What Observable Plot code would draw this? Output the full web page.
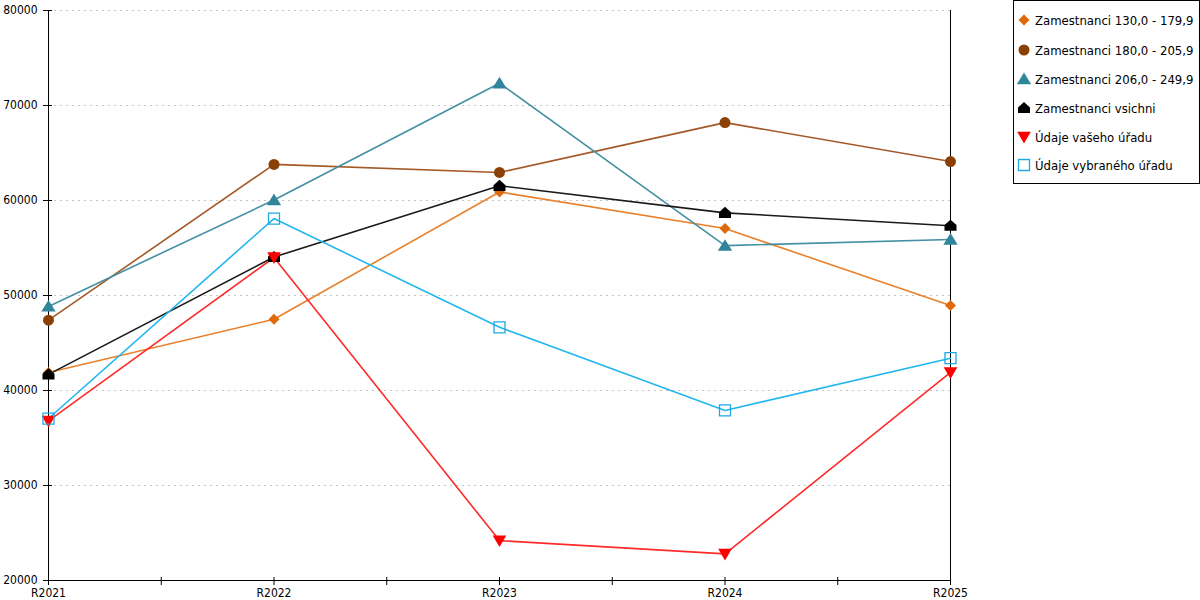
<!DOCTYPE html>
<html><head><meta charset="utf-8">
<script src="https://cdn.jsdelivr.net/npm/d3@7"></script>
<script src="https://cdn.jsdelivr.net/npm/@observablehq/plot@0.6"></script>
<style>
body{margin:0;background:#fff;font-family:"DejaVu Sans Condensed","DejaVu Sans",sans-serif;}
#wrap{position:relative;width:1200px;height:600px;}
#legend{position:absolute;left:1013px;top:0;width:185px;height:182px;border:1px solid #000;background:#fff;font-size:13px;color:#000;}
.item{position:absolute;left:3px;height:16px;display:flex;align-items:center;white-space:nowrap;}
.item svg{margin-right:4px;}
</style></head><body><div id="wrap"><div id="legend"></div></div>
<script>
const years = ["R2021","R2022","R2023","R2024","R2025"];
const seriesNames = ["Zamestnanci 130,0 - 179,9","Zamestnanci 180,0 - 205,9","Zamestnanci 206,0 - 249,9","Zamestnanci vsichni","Údaje vašeho úřadu","Údaje vybraného úřadu"];
const zam130 = [41900,47500,60900,57050,48950];
const zam180 = [47400,63800,62950,68200,64100];
const zam206 = [48850,60050,72350,55250,55900];
const zamAll = [41700,54050,61550,58700,57350];
const vasUrad = [36800,54000,24200,22800,41900];
const vybUrad = [37050,58100,46650,37900,43400];
const yTicks = [20000,30000,40000,50000,60000,70000,80000];

const R = s => Math.sqrt(s/Math.PI);
const symDiamond = {draw(c,s){const r=R(s);c.moveTo(0,-r);c.lineTo(r,0);c.lineTo(0,r);c.lineTo(-r,0);c.closePath();}};
const symCircle = {draw(c,s){const r=R(s);c.moveTo(r,0);c.arc(0,0,r,0,2*Math.PI);c.closePath();}};
const symTriUp = {draw(c,s){const r=R(s);c.moveTo(0,-r);c.lineTo(1.1*r,0.8*r);c.lineTo(-1.1*r,0.8*r);c.closePath();}};
const symHouse = {draw(c,s){const r=R(s);c.moveTo(0,-r);c.lineTo(r,-0.1*r);c.lineTo(r,0.85*r);c.lineTo(-r,0.85*r);c.lineTo(-r,-0.1*r);c.closePath();}};
const symTriDown = {draw(c,s){const r=R(s);c.moveTo(-1.05*r,-0.8*r);c.lineTo(1.05*r,-0.8*r);c.lineTo(0,r);c.closePath();}};
const symSquare = {draw(c,s){const r=R(s);c.rect(-r,-r,2*r,2*r);}};

const series = [
  {name: seriesNames[0], values: zam130, line:"#e8802c", mark:"#de6a0a", sym:symDiamond, r:5.5, fill:true},
  {name: seriesNames[1], values: zam180, line:"#a45a28", mark:"#8b4106", sym:symCircle, r:5.5, fill:true},
  {name: seriesNames[2], values: zam206, line:"#4390a4", mark:"#2f8599", sym:symTriUp, r:6.5, fill:true},
  {name: seriesNames[3], values: zamAll, line:"#1a1a1a", mark:"#000000", sym:symHouse, r:6, fill:true},
  {name: seriesNames[4], values: vasUrad, line:"#ff2a2a", mark:"#ff0000", sym:symTriDown, r:6.5, fill:true},
  {name: seriesNames[5], values: vybUrad, line:"#22b6ee", mark:"#1fa9e3", sym:symSquare, r:5.5, fill:false}
];

const marks = [
  Plot.gridY(yTicks.filter(v => v > 20000), {stroke:"#c4c4c4", strokeOpacity:1, strokeDasharray:"2,4"}),
  Plot.ruleX([0], {stroke:"#000"}),
  Plot.ruleX([4], {stroke:"#000"}),
  Plot.ruleY([20000], {stroke:"#000"}),
  Plot.axisY({ticks: yTicks, tickSize: 9, dx: 4, tickFormat: () => "", stroke:"#000", label: null}),
  Plot.axisY({ticks: yTicks, tickSize: 0, tickPadding: 11, tickFormat: d => String(d), fontSize: 12, fill:"#000", label: null}),
  Plot.axisX({ticks: [0,0.5,1,1.5,2,2.5,3,3.5,4], tickSize: 8, dy: -3, tickFormat: () => "", stroke:"#000", label: null}),
  Plot.axisX({ticks: [0,1,2,3,4], tickSize: 0, tickPadding: 8, tickFormat: i => years[i], fontSize: 12, fill:"#000", label: null})
];
for (const s of series) {
  const data = years.map((y,i) => ({i, v: s.values[i]}));
  marks.push(Plot.line(data, {x:"i", y:"v", stroke:s.line, strokeWidth:1.6}));
}
for (const s of series) {
  const data = years.map((y,i) => ({i, v: s.values[i]}));
  marks.push(Plot.dot(data, {x:"i", y:"v", symbol:s.sym, r:s.r,
    fill: s.fill ? s.mark : "#fff", fillOpacity: s.fill ? 1 : 0, stroke: s.fill ? "none" : s.mark, strokeWidth: 1.3}));
}

const chart = Plot.plot({
  width: 1200, height: 600,
  marginLeft: 48, marginRight: 250, marginTop: 10, marginBottom: 20,
  style: {fontFamily: '"DejaVu Sans Condensed","DejaVu Sans",sans-serif', fontSize: "12px", background: "#fff", color:"#000"},
  x: {type: "linear", domain: [0,4], axis: null},
  y: {type: "linear", domain: [20000,80000], axis: null},
  marks
});
document.getElementById("wrap").prepend(chart);

const legend = document.getElementById("legend");
const tops = [11,41,70,99,128,156];
series.forEach((s, k) => {
  const item = document.createElement("div");
  item.className = "item";
  item.style.top = tops[k] + "px";
  const svg = d3.create("svg").attr("width", 14).attr("height", 16);
  const p = d3.path();
  s.sym.draw(p, s.r*s.r*Math.PI);
  svg.append("path").attr("transform","translate(7,8)").attr("d", p.toString())
    .attr("fill", s.fill ? s.mark : "none").attr("stroke", s.fill ? "none" : s.mark).attr("stroke-width", 1.3);
  item.appendChild(svg.node());
  const t = document.createElement("span");
  t.textContent = s.name;
  item.appendChild(t);
  legend.appendChild(item);
});
</script>
</body></html>
